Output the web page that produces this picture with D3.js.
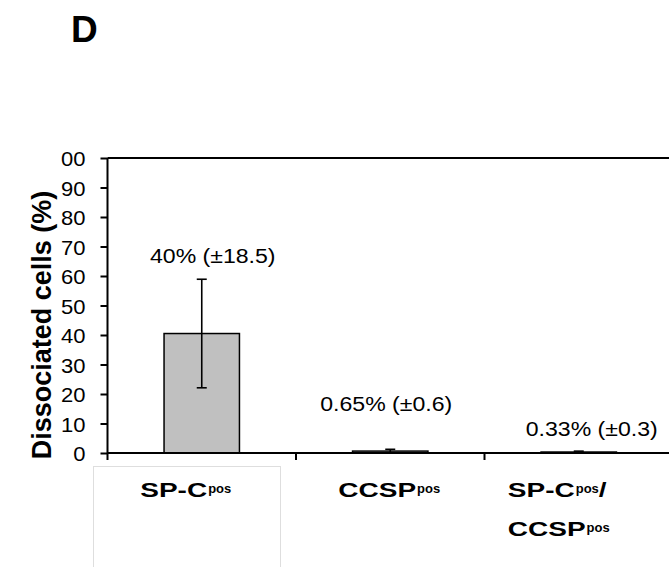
<!DOCTYPE html>
<html>
<head>
<meta charset="utf-8">
<script src="https://cdn.jsdelivr.net/npm/d3@7"></script>
<style>
  html, body { margin: 0; padding: 0; background: #fff; }
  svg { display: block; font-family: "Liberation Sans", Arial, Helvetica, sans-serif; }
</style>
</head>
<body>
<svg id="chart" width="669" height="567"></svg>
<script>
// Chart data
const categories = ["SP-C", "CCSP", "SP-C/CCSP"];
const values = [40.5, 0.65, 0.33];
const errors = [18.4, 0.6, 0.3];
const valueLabels = ["40% (\u00b118.5)", "0.65% (\u00b10.6)", "0.33% (\u00b10.3)"];
// each line: even parts normal, odd parts superscript
const categoryLabels = [
    [["SP-C", "pos"]],
    [["CCSP", "pos"]],
    [["SP-C", "pos", "/"], ["CCSP", "pos"]]
];
const yTicks = [0, 10, 20, 30, 40, 50, 60, 70, 80, 90, 100];
const yTickLabels = ["0", "10", "20", "30", "40", "50", "60", "70", "80", "90", "00"];

// layout tweaks
const valueLabelDx = [11, -4, 13];
const valueLabelGap = [16, 38, 15];
const catLabelDx = [-16, -1, -20];

const svg = d3.select("#chart");

const x = d3.scaleBand()
    .domain(categories)
    .range([107.5, 673])
    .padding(0);

const y = d3.scaleLinear()
    .domain([0, 100])
    .range([453, 158]);

const barW = x.bandwidth() * 0.4;

// Panel letter
svg.append("text")
    .attr("x", 71)
    .attr("y", 42)
    .attr("font-size", 37)
    .attr("font-weight", "bold")
    .text("D");

// Y axis title
svg.append("text")
    .attr("transform", "translate(51,325) rotate(-90)")
    .attr("text-anchor", "middle")
    .attr("font-size", 27)
    .attr("font-weight", "bold")
    .text("Dissociated cells (%)");

// light box behind first category label
svg.append("rect")
    .attr("x", 93.5)
    .attr("y", 466.5)
    .attr("width", 187)
    .attr("height", 110)
    .attr("fill", "none")
    .attr("stroke", "#dedede")
    .attr("stroke-width", 1);

// Bars
svg.selectAll(".bar")
    .data(values)
    .enter()
    .append("rect")
    .attr("class", "bar")
    .attr("x", (d, i) => x(categories[i]) + x.bandwidth() / 2 - barW / 2)
    .attr("y", d => y(d))
    .attr("width", barW)
    .attr("height", d => y(0) - y(d))
    .attr("fill", "#c0c0c0")
    .attr("stroke", "#000")
    .attr("stroke-width", 1.5);

// Error bars
const err = svg.selectAll(".err")
    .data(values)
    .enter()
    .append("g")
    .attr("class", "err")
    .attr("stroke", "#000")
    .attr("stroke-width", 1.6);

err.append("line")
    .attr("x1", (d, i) => x(categories[i]) + x.bandwidth() / 2)
    .attr("x2", (d, i) => x(categories[i]) + x.bandwidth() / 2)
    .attr("y1", (d, i) => y(d + errors[i]))
    .attr("y2", (d, i) => y(Math.max(0, d - errors[i])));

[1, -1].forEach(s => {
    err.append("line")
        .attr("x1", (d, i) => x(categories[i]) + x.bandwidth() / 2 - 5)
        .attr("x2", (d, i) => x(categories[i]) + x.bandwidth() / 2 + 5)
        .attr("y1", (d, i) => y(d + s * errors[i]))
        .attr("y2", (d, i) => y(d + s * errors[i]));
});

// Y axis
const yAxis = svg.append("g")
    .attr("transform", "translate(107.5,0)")
    .call(d3.axisLeft(y)
        .tickValues(yTicks)
        .tickFormat((d, i) => yTickLabels[i])
        .tickSize(7)
        .tickSizeOuter(0)
        .tickPadding(0));

yAxis.select(".domain").attr("stroke-width", 2).attr("d", "M0,158V460");
yAxis.selectAll(".tick line").attr("stroke-width", 2);
yAxis.selectAll(".tick text")
    .attr("font-size", 20)
    .attr("font-family", null)
    .attr("fill", "#000")
    .attr("x", -22 / 1.1)
    .attr("dy", "0.38em")
    .attr("transform", "scale(1.1,1)");

// top border and x axis line
[100, 0].forEach(v => {
    svg.append("line")
        .attr("x1", 107.5)
        .attr("x2", 669)
        .attr("y1", y(v))
        .attr("y2", y(v))
        .attr("stroke", "#000")
        .attr("stroke-width", 2);
});

// x ticks at band edges
svg.selectAll(".xtick")
    .data(categories)
    .enter()
    .append("line")
    .attr("class", "xtick")
    .attr("x1", d => x(d) + x.bandwidth())
    .attr("x2", d => x(d) + x.bandwidth())
    .attr("y1", y(0))
    .attr("y2", y(0) + 7)
    .attr("stroke", "#000")
    .attr("stroke-width", 2);

// Value labels
svg.selectAll(".vlabel")
    .data(valueLabels)
    .enter()
    .append("text")
    .attr("class", "vlabel")
    .attr("text-anchor", "middle")
    .attr("font-size", 21)
    .attr("transform", (d, i) => {
        const cx = x(categories[i]) + x.bandwidth() / 2 + valueLabelDx[i];
        const by = y(values[i] + errors[i]) - valueLabelGap[i];
        return `translate(${cx},${by}) scale(1.1,1)`;
    })
    .text(d => d);

// Category labels (bold, with superscripts)
const mainSize = 20, mainScale = 1.4, supSize = 13;
categoryLabels.forEach((lines, i) => {
    const g = svg.append("g");
    let maxW = 0;
    lines.forEach((parts, li) => {
        const lg = g.append("g").attr("transform", `translate(0,${497 + li * 39})`);
        let cx = 0;
        parts.forEach((p, pi) => {
            if (pi % 2 === 0) {
                const t = lg.append("text")
                    .attr("font-size", mainSize)
                    .attr("font-weight", "bold")
                    .attr("transform", `translate(${cx},0) scale(${mainScale},1)`)
                    .text(p);
                cx += t.node().getComputedTextLength() * mainScale;
            } else {
                const t = lg.append("text")
                    .attr("font-size", supSize)
                    .attr("font-weight", "bold")
                    .attr("transform", `translate(${cx + 1},-4)`)
                    .text(p);
                cx += t.node().getComputedTextLength() + 1;
            }
        });
        maxW = Math.max(maxW, cx);
    });
    const left = x(categories[i]) + x.bandwidth() / 2 - maxW / 2 + catLabelDx[i];
    g.attr("transform", `translate(${left},0)`);
});
</script>
</body>
</html>
